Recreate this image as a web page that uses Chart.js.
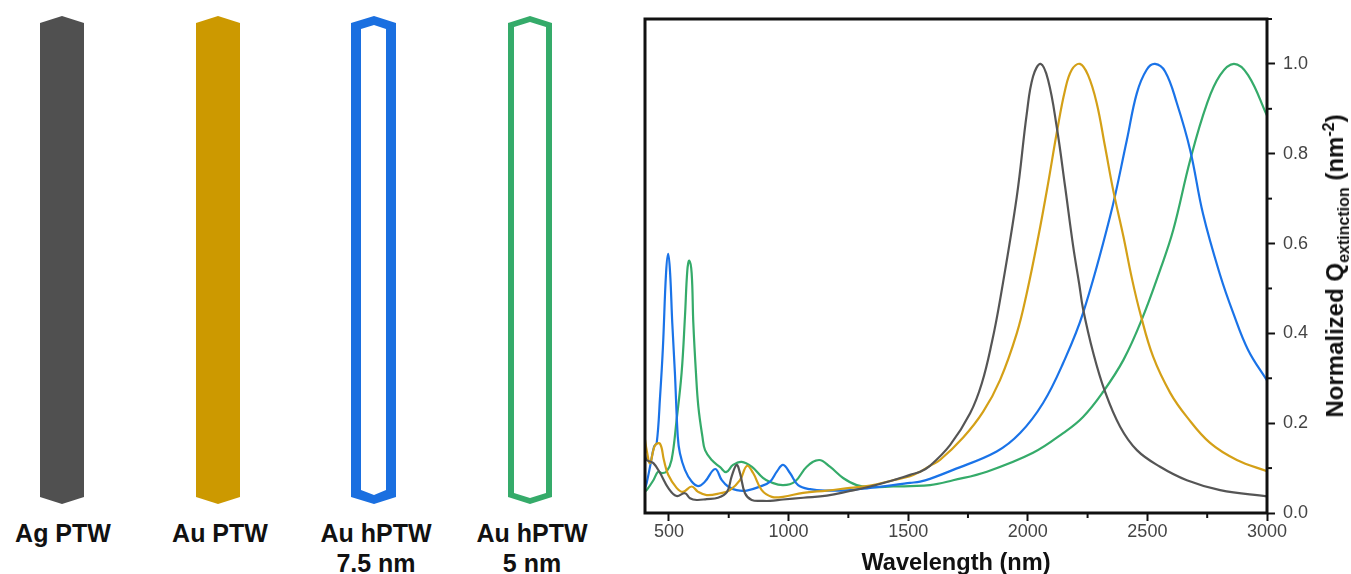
<!DOCTYPE html>
<html>
<head>
<meta charset="utf-8">
<title>Normalized extinction spectra</title>
<script src="https://cdn.jsdelivr.net/npm/chart.js@4/dist/chart.umd.min.js"></script>
<style>
  html, body { margin: 0; padding: 0; background: #fff; overflow: hidden; }
  #wrap { position: relative; width: 1351px; height: 574px; font-family: "Liberation Sans", Arial, sans-serif; }
  #chart { position: absolute; left: 0; top: 0; }
  #rods { position: absolute; left: 0; top: 0; }
  .rodLabel { position: absolute; width: 160px; text-align: center; font-weight: bold; font-size: 25px; line-height: 30px; color: #111; }
  #yTitle { position: absolute; left: 1335px; top: 266px; transform: translate(-50%, -50%) rotate(-90deg); white-space: nowrap; font-weight: bold; font-size: 24px; color: #111; }
  #yTitle sub, #yTitle sup { font-size: 16px; line-height: 0; }
</style>
</head>
<body>
<div id="wrap">
  <svg id="rods" width="600" height="574">
    <polygon fill="#505050" points="40,23 62,16 84,23 84,497 62,504 40,497"/>
    <polygon fill="#cc9900" points="196,23 218,16 240,23 240,497 218,504 196,497"/>
    <polygon fill="#1a6fe0" fill-rule="evenodd" points="351,23 374,16 396,23 396,497 374,504 351,497 351,23 361,29 361,490 374,495 386,490 386,29 374,25 361,29"/>
    <polygon fill="#35ab6a" fill-rule="evenodd" points="508,23 530,16 552,23 552,497 530,504 508,497 508,23 514,27 514,493 530,498 546,493 546,27 530,22 514,27"/>
  </svg>
  <div class="rodLabel" style="left:-17px;top:518px">Ag PTW</div>
  <div class="rodLabel" style="left:140px;top:518px">Au PTW</div>
  <div class="rodLabel" style="left:296px;top:518px">Au hPTW<br>7.5 nm</div>
  <div class="rodLabel" style="left:452px;top:518px">Au hPTW<br>5 nm</div>
  <canvas id="chart" width="1351" height="574"></canvas>
  <div id="yTitle">Normalized Q<sub>extinction</sub> (nm<sup>-2</sup>)</div>
</div>
<script>
// valeurs
const agX = [400,407,435,463,497,532,567,588,616,658,705,743,762,783,797,818,846,893,923,977,1061,1160,1257,1341,1437,1508,1550,1591,1675,1759,1808,1850,1884,1954,1996,2022,2054,2085,2121,2156,2190,2215,2231,2273,2323,2386,2456,2553,2665,2804,3000];
const agY = [.13,.118,.111,.089,.056,.038,.044,.033,.029,.031,.034,.047,.081,.107,.089,.044,.029,.027,.027,.03,.034,.0385,.049,.059,.073,.085,.092,.105,.151,.222,.289,.38,.474,.704,.89,.972,1,.964,.86,.727,.593,.51,.455,.358,.27,.192,.14,.103,.073,.051,.037];

const auX = [400,407,421,442,463,479,497,532,559,595,622,658,714,755,797,826,852,888,930,977,1061,1160,1257,1341,1437,1508,1550,1591,1633,1730,1813,1884,1954,1996,2044,2085,2121,2156,2184,2218,2252,2288,2323,2357,2400,2435,2470,2524,2596,2665,2762,2874,3000];
const auY = [.163,.14,.111,.151,.154,.118,.085,.056,.047,.059,.047,.04,.044,.051,.073,.105,.089,.051,.036,.036,.045,.05,.056,.061,.073,.082,.092,.105,.118,.168,.225,.296,.4,.49,.615,.734,.846,.942,.987,1,.975,.913,.816,.719,.615,.523,.445,.348,.267,.214,.156,.118,.093];

const hollow75X = [400,407,421,438,449,463,475,488,497,505,514,525,537,546,567,595,622,651,693,721,747,783,825,881,923,951,977,1006,1040,1090,1160,1257,1341,1437,1508,1550,1591,1688,1870,1968,2064,2148,2231,2344,2414,2456,2497,2532,2574,2623,2679,2733,2804,2859,2921,3000];
const hollow75Y = [.055,.067,.103,.148,.156,.259,.37,.534,.577,.534,.423,.312,.17,.133,.096,.07,.06,.07,.098,.073,.059,.051,.05,.059,.07,.092,.107,.089,.062,.053,.05,.051,.056,.062,.067,.07,.076,.096,.137,.178,.245,.334,.445,.66,.83,.935,.987,1,.983,.913,.808,.665,.53,.445,.363,.295];

const hollow5X = [400,407,435,455,470,490,511,532,553,567,577,585,595,602,613,623,640,651,679,714,739,768,804,846,893,923,977,1027,1076,1128,1173,1228,1285,1341,1437,1508,1591,1688,1829,2022,2148,2231,2315,2400,2476,2553,2608,2679,2748,2804,2862,2921,3000];
const hollow5Y = [.048,.051,.073,.092,.089,.092,.118,.207,.312,.437,.541,.562,.534,.423,.312,.237,.17,.14,.118,.102,.091,.107,.114,.103,.078,.069,.062,.07,.103,.118,.103,.078,.062,.058,.059,.06,.062,.073,.092,.134,.178,.214,.27,.341,.43,.541,.63,.786,.91,.975,1,.975,.885];

const xTickValues = [500,750,1000,1250,1500,1750,2000,2250,2500,2750,3000];
const yTickValues = [0,.1,.2,.3,.4,.5,.6,.7,.8,.9,1,1.1];

function points(xs, ys) {
    return xs.map((x, i) => ({ x: x, y: ys[i] }));
}

function serie(label, xs, ys, color) {
    return {
        label: label,
        data: points(xs, ys),
        borderColor: color,
        borderWidth: 2.2,
        pointRadius: 0,
        tension: 0.4,
        fill: false
    };
}

// cadre complet et petites graduations
const framePlugin = {
    id: 'frame',
    afterDraw(chart) {
        const { ctx, chartArea: a, scales } = chart;
        ctx.save();
        ctx.strokeStyle = '#111';
        ctx.lineWidth = 2;
        scales.x.ticks.forEach(t => {
            if (t.value % 500 === 0) return;
            const px = scales.x.getPixelForValue(t.value);
            ctx.beginPath(); ctx.moveTo(px, a.bottom); ctx.lineTo(px, a.bottom + 5); ctx.stroke();
        });
        scales.y.ticks.forEach(t => {
            if (Math.round(t.value * 10) % 2 === 0) return;
            const py = scales.y.getPixelForValue(t.value);
            ctx.beginPath(); ctx.moveTo(a.right, py); ctx.lineTo(a.right + 5, py); ctx.stroke();
        });
        ctx.lineWidth = 3;
        ctx.strokeRect(a.left, a.top, a.right - a.left, a.bottom - a.top);
        ctx.restore();
    }
};

new Chart(document.getElementById('chart').getContext('2d'), {
    type: 'line',
    data: {
        datasets: [
            serie('Ag PTW', agX, agY, '#555555'),
            serie('Au PTW', auX, auY, '#d4a017'),
            serie('Au hPTW 7.5 nm', hollow75X, hollow75Y, '#1a73e8'),
            serie('Au hPTW 5 nm', hollow5X, hollow5Y, '#35ab6a')
        ]
    },
    options: {
        responsive: false,
        animation: false,
        layout: { padding: { left: 645, top: 19, right: 0, bottom: 0 } },
        plugins: { legend: { display: false }, tooltip: { enabled: false } },
        scales: {
            x: {
                type: 'linear',
                min: 400,
                max: 3000,
                afterBuildTicks(s) { s.ticks = xTickValues.map(v => ({ value: v })); },
                afterFit(s) { s.height = 61; },
                grid: {
                    drawOnChartArea: false,
                    tickLength: 8,
                    tickWidth: 2,
                    tickColor: c => (c.tick && c.tick.value % 500 === 0 ? '#111' : 'transparent')
                },
                border: { display: false },
                ticks: {
                    autoSkip: false,
                    maxRotation: 0,
                    padding: 0,
                    color: '#444',
                    font: { family: 'Liberation Sans', size: 18 },
                    callback: v => (v % 500 === 0 ? String(v) : '')
                },
                title: {
                    display: true,
                    text: 'Wavelength (nm)',
                    color: '#111',
                    padding: { top: 0, bottom: -4 },
                    font: { family: 'Liberation Sans', size: 23.6, weight: 'bold' }
                }
            },
            y: {
                position: 'right',
                min: 0,
                max: 1.1,
                afterBuildTicks(s) { s.ticks = yTickValues.map(v => ({ value: v })); },
                afterFit(s) { s.width = 84; },
                grid: {
                    drawOnChartArea: false,
                    tickLength: 8,
                    tickWidth: 2,
                    tickColor: c => (c.tick && Math.round(c.tick.value * 10) % 2 === 0 ? '#111' : 'transparent')
                },
                border: { display: false },
                ticks: {
                    autoSkip: false,
                    padding: 8,
                    color: '#444',
                    font: { family: 'Liberation Sans', size: 18 },
                    callback: v => (Math.round(v * 10) % 2 === 0 ? v.toFixed(1) : '')
                }
            }
        }
    },
    plugins: [framePlugin]
});
</script>
</body>
</html>
